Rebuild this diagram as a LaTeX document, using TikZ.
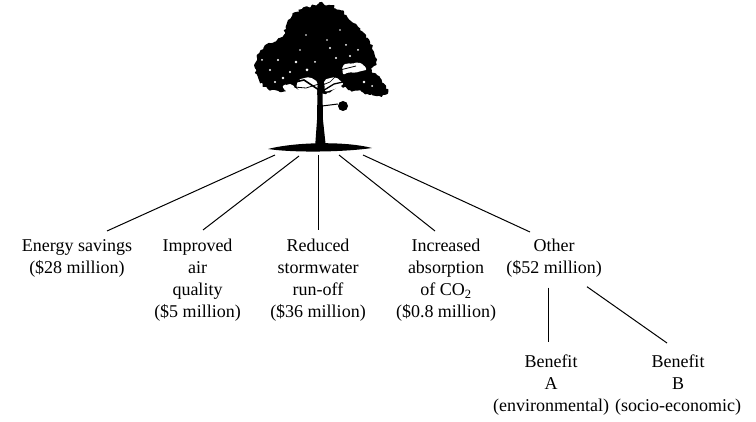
\documentclass[tikz,border=0pt]{standalone}
\usepackage{fontspec}
\setmainfont{Liberation Serif}
\usetikzlibrary{positioning}
\usetikzlibrary{calc}
\usetikzlibrary{decorations.pathmorphing}

\begin{document}
\begin{tikzpicture}[x=1pt, y=-1pt,
			value/.style={align=center, anchor=north, inner sep=0pt, font=\rmfamily\fontsize{18}{22}\selectfont},
			link/.style={draw, line width=1pt},
			leaves/.style={decorate, decoration={random steps, segment length=2.2pt, amplitude=1.8pt}, rounded corners=0.6pt},
			gap/.style={fill=white, rounded corners=2pt}]
			\useasboundingbox (0,0) rectangle (756,422);
			\pgfmathsetseed{4217}
			
			% tree
			\fill[black, leaves] plot[smooth cycle, tension=0.5] coordinates {(318,4) (330,5) (340,10) (348,18) (356,24) (363,32) (370,42) (374,52) (376,62) (372,70) (380,78) (386,86) (387,94) (376,96) (362,92) (350,90) (340,86) (333,90) (325,94) (316,94) (305,90) (292,88) (280,92) (268,89) (259,80) (255,68) (257,55) (264,47) (274,42) (283,36) (286,26) (292,16) (302,9)};
			\path[gap] (342,66) -- (347,63) -- (352,64) -- (358,62) -- (364,65) -- (367,70) -- (361,71) -- (355,73) -- (349,72) -- (343,75) -- cycle;
			\path[gap] (298,80) -- (304,78) -- (310,77) -- (318,82) -- (317,96) -- (311,94) -- (305,93) -- (296,88) -- cycle;
			\path[gap] (282,86) -- (287,84) -- (292,84) -- (296,89) -- (291,91) -- (286,92) -- cycle;
			\path[gap] (324,80) -- (330,78) -- (336,77) -- (344,84) -- (339,87) -- (335,89) -- (325,92) -- cycle;
			\foreach \x/\y/\r in {296/62/1.3, 307/70/1.5, 330/48/1.1, 346/45/1, 270/70/1.1, 364/82/1.3, 283/78/1.3, 336/58/1.2, 327/40/0.9, 306/35/0.9, 262/60/1, 278/60/1.1, 358/50/1, 290/72/1.2, 315/62/1, 350/56/1.1, 372/86/1, 300/50/0.9, 340/30/0.9, 275/82/1.2}
				\fill[white] (\x,\y) circle[radius=\r];
			\fill[black] (315,148) -- (317,120) -- (318,60) -- (322,60) -- (323,120) -- (326,148) -- cycle;
			\draw[line width=1.6pt] (319,90) -- (304,80) -- (286,84);
			\draw[line width=1.3pt] (321,92) -- (334,84) -- (352,80);
			\draw[line width=0.8pt] (319,84) -- (306,88) -- (294,87);
			\draw[line width=0.8pt] (322,78) -- (340,70) -- (356,66);
			\draw[line width=0.7pt] (320,86) -- (330,82) -- (336,76);
			\draw[line width=1pt] (322,106) -- (338,104);
			\fill[black] (343,106) circle[radius=5];
			\fill[black] (268,149) .. controls (295,142) and (345,141) .. (372,148) .. controls (345,152) and (295,153) .. (268,149);
			
			\coordinate (g1) at (275,155);
			\coordinate (g2) at (299,156);
			\coordinate (g3) at (318,155);
			\coordinate (g4) at (339,155);
			\coordinate (g5) at (363,155);
			
			\node[value](energy) at (77,239) {Energy savings\\(\$28 million)};
			\node[value](air) at (197.5,239) {Improved\\air\\quality\\(\$5 million)};
			\node[value](storm) at (318,239) {Reduced\\stormwater\\run-off\\(\$36 million)};
			\node[value](carbon) at (446,239) {Increased\\absorption\\of CO\textsubscript{2}\\(\$0.8 million)};
			\node[value](other) at (554,239) {Other\\(\$52 million)};
			
			\node[value](benA) at (551,355) {Benefit\\A\\(environmental)};
			\node[value](benB) at (678,355) {Benefit\\B\\(socio-economic)};
			
			\draw[link] (g1) edge ([xshift=30pt, yshift=8pt]energy.north);
			\draw[link] (g2) edge ([xshift=5.5pt, yshift=9pt]air.north);
			\draw[link] (g3) edge ([yshift=9pt]storm.north);
			\draw[link] (g4) edge ([xshift=-11pt, yshift=8pt]carbon.north);
			\draw[link] (g5) edge ([xshift=-24pt, yshift=7pt]other.north);
			
			\draw[link] ([xshift=-6pt, yshift=-10pt]other.south) edge ([xshift=-3pt, yshift=13pt]benA.north);
			\draw[link] ([xshift=33pt, yshift=-9pt]other.south) edge ([xshift=-11pt, yshift=12pt]benB.north);
			
		\end{tikzpicture}
\end{document}
